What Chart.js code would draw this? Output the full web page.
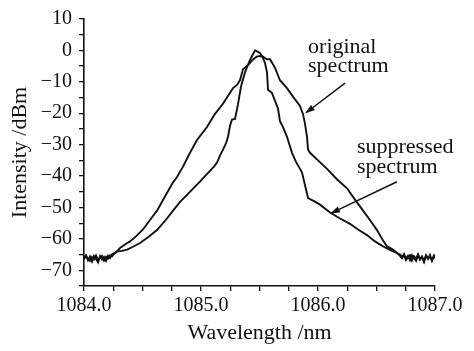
<!DOCTYPE html>
<html>
<head>
<meta charset="utf-8">
<script src="https://cdn.jsdelivr.net/npm/chart.js@4.4.0/dist/chart.umd.min.js"></script>
<style>
  html, body { margin: 0; padding: 0; background: #fff; }
  #wrap { width: 474px; height: 351px; }
</style>
</head>
<body>
<div id="wrap"><canvas id="spec" width="474" height="351"></canvas></div>
<script>
// Spectra (wavelength in nm, intensity in dBm)
const originalNm = [
  1084.000, 1084.017, 1084.034, 1084.051, 1084.068, 1084.085, 1084.103, 1084.120, 1084.137, 1084.154, 1084.171, 1084.188, 1084.205, 1084.222, 1084.239,
  1084.256, 1084.274, 1084.291, 1084.308, 1084.350, 1084.393, 1084.444, 1084.504, 1084.564, 1084.624, 1084.692, 1084.761, 1084.795, 1084.846, 1084.906, 1084.966,
  1085.051, 1085.120, 1085.188, 1085.248, 1085.274, 1085.308, 1085.333, 1085.359, 1085.393, 1085.419, 1085.444, 1085.479, 1085.521, 1085.547, 1085.564, 1085.590,
  1085.632, 1085.675, 1085.735, 1085.786, 1085.846, 1085.872, 1085.889, 1085.906, 1085.915, 1085.932,
  1086.000, 1086.077, 1086.162, 1086.248, 1086.316, 1086.385, 1086.444, 1086.504, 1086.556, 1086.590, 1086.641, 1086.675,
  1086.701, 1086.718, 1086.735, 1086.752, 1086.769, 1086.786, 1086.803, 1086.820, 1086.838, 1086.855, 1086.872, 1086.889, 1086.906, 1086.923, 1086.940, 1086.957, 1086.974, 1086.991, 1087.000
];
const originalDb = [
  -66, -65.2, -66.8, -65.6, -67.2, -65.4, -66.4, -67.5, -65.5, -66.6, -65.8, -67, -65.4, -66.1, -64.9,
  -64.6, -64.2, -63.6, -62.9, -61.8, -60.8, -59.2, -57, -54, -51, -46.5, -42, -40.3, -37, -32.6, -28.5,
  -24.4, -20.2, -17, -13.5, -12, -11, -9.5, -6, -5, -4, -2.9, -1.9, -1.8, -2.4, -2.8, -2.8,
  -5.5, -9.5, -12, -14.7, -17.7, -20.3, -23.4, -27.5, -31.6, -32.6,
  -35, -37.7, -41, -43.9, -47.5, -51, -54, -57.2, -60.5, -62.4, -63.4, -64.5,
  -65, -65.8, -64.8, -66.2, -65.4, -66.8, -65.2, -66, -67, -65.3, -66.5, -65.6, -67.2, -65.4, -66.4, -65.1, -67, -65.6, -66.2
];

const suppressedNm = [
  1084.000, 1084.017, 1084.034, 1084.051, 1084.068, 1084.085, 1084.103, 1084.120, 1084.137, 1084.154, 1084.171, 1084.188, 1084.205, 1084.222, 1084.239, 1084.256,
  1084.282, 1084.325, 1084.368, 1084.419, 1084.479, 1084.547, 1084.624, 1084.692, 1084.761, 1084.821, 1084.880, 1084.932, 1084.991,
  1085.060, 1085.111, 1085.137, 1085.162, 1085.188, 1085.214, 1085.231, 1085.248, 1085.265, 1085.291, 1085.316, 1085.342, 1085.376, 1085.402, 1085.419, 1085.436, 1085.462,
  1085.479, 1085.504, 1085.530, 1085.547, 1085.564, 1085.573, 1085.590, 1085.607, 1085.632, 1085.658, 1085.675, 1085.701, 1085.735, 1085.761, 1085.778, 1085.812, 1085.863, 1085.889, 1085.915, 1085.966,
  1086.017, 1086.103, 1086.188, 1086.274, 1086.342, 1086.419, 1086.487, 1086.556, 1086.590, 1086.632, 1086.675,
  1086.701, 1086.718, 1086.735, 1086.752, 1086.769, 1086.786, 1086.803, 1086.820, 1086.838, 1086.855, 1086.872, 1086.889, 1086.906, 1086.923, 1086.940, 1086.957, 1086.974, 1086.991, 1087.000
];
const suppressedDb = [
  -66.4, -65.6, -66.2, -67, -65.8, -66.6, -65.3, -66.8, -66, -65.4, -66.9, -65.7, -66.3, -65.2, -65.6, -64.8,
  -64, -63.8, -63.4, -62.5, -61.3, -59.5, -57.2, -54.3, -51, -48.2, -46, -44, -41.8,
  -39, -37, -35.7, -33.5, -31.6, -29.5, -27.5, -24, -22, -21.8, -17.2, -11.5, -7, -4.5, -3, -1.8, 0,
  -0.3, -0.8, -2.4, -4, -7, -12.6, -13, -13.6, -16, -18.5, -22.5, -24.4, -27.5, -30.6, -32.6, -35.5, -38.8, -42.9, -47, -48,
  -49.1, -51.6, -53.5, -55.2, -57, -58.8, -60.8, -62.4, -63, -63.8, -64.5,
  -65.4, -66.2, -65.1, -66.7, -65.8, -65.2, -66.9, -65.5, -66.3, -64.9, -66.6, -65.7, -67.3, -65.2, -66.1, -65.8, -66.8, -65.3, -65.9
];

// callouts in data units: [text, nm, dBm baseline]
const noteLabels = [
  ["original", 1085.915, -0.9],
  ["spectrum", 1085.915, -6.8],
  ["suppressed", 1086.333, -32.5],
  ["spectrum", 1086.333, -39.0]
];
// arrows: [fromNm, fromDb, toNm, toDb]
const noteArrows = [
  [1086.231, -10.4, 1085.889, -20.1],
  [1086.675, -41.8, 1086.103, -52.0]
];

const serif = "'Liberation Serif', 'Times New Roman', serif";
const ink = "#111";

function toPoints(xs, ys) {
  return xs.map((x, i) => ({ x: x, y: ys[i] }));
}

const notes = {
  id: "notes",
  beforeDraw(chart) {
    const c = chart.ctx;
    c.save();
    c.fillStyle = "#fff";
    c.fillRect(0, 0, chart.width, chart.height);
    c.restore();
  },
  afterDraw(chart) {
    const c = chart.ctx;
    const xs = chart.scales.x, ys = chart.scales.y;
    c.save();
    c.fillStyle = ink;
    c.strokeStyle = ink;
    c.font = "22px " + serif;
    c.textAlign = "left";
    c.textBaseline = "alphabetic";
    noteLabels.forEach(([t, x, y]) => {
      c.fillText(t, xs.getPixelForValue(x), ys.getPixelForValue(y));
    });
    c.lineWidth = 1.5;
    noteArrows.forEach(([x0, y0, x1, y1]) => {
      const ax = xs.getPixelForValue(x0), ay = ys.getPixelForValue(y0);
      const bx = xs.getPixelForValue(x1), by = ys.getPixelForValue(y1);
      const ang = Math.atan2(by - ay, bx - ax);
      const len = 10, half = 3.2;
      const hx = bx - len * Math.cos(ang), hy = by - len * Math.sin(ang);
      c.beginPath();
      c.moveTo(ax, ay);
      c.lineTo(hx, hy);
      c.stroke();
      c.beginPath();
      c.moveTo(bx, by);
      c.lineTo(hx + half * Math.sin(ang), hy - half * Math.cos(ang));
      c.lineTo(hx - half * Math.sin(ang), hy + half * Math.cos(ang));
      c.closePath();
      c.fill();
    });
    c.restore();
  }
};

new Chart(document.getElementById("spec"), {
  type: "scatter",
  data: {
    datasets: [
      { label: "original spectrum", data: toPoints(originalNm, originalDb) },
      { label: "suppressed spectrum", data: toPoints(suppressedNm, suppressedDb) }
    ]
  },
  options: {
    responsive: false,
    devicePixelRatio: 1,
    animation: false,
    showLine: true,
    layout: { padding: { top: 11, right: 39, left: 0, bottom: 0 } },
    elements: {
      point: { radius: 0, hoverRadius: 0 },
      line: { borderColor: ink, borderWidth: 1.9, tension: 0 }
    },
    plugins: { legend: { display: false }, tooltip: { enabled: false } },
    scales: {
      x: {
        type: "linear",
        min: 1084, max: 1087,
        afterFit: s => { s.height = 65; },
        border: { color: ink, width: 1.6 },
        grid: { drawOnChartArea: false, drawTicks: true, tickLength: 5, color: ink, lineWidth: 1.3 },
        ticks: {
          stepSize: 0.25, autoSkip: false, maxRotation: 0, padding: 3,
          color: ink, font: { family: serif, size: 20 },
          callback: v => Math.abs(v - Math.round(v)) < 1e-6 ? v.toFixed(1) : ""
        },
        title: {
          display: true, text: "Wavelength /nm", color: ink,
          font: { family: serif, size: 22 }, padding: { top: 0, bottom: 5 }
        }
      },
      y: {
        min: -75, max: 10,
        afterFit: s => { s.width = 84; },
        border: { color: ink, width: 1.6 },
        grid: { drawOnChartArea: false, drawTicks: true, tickLength: 5, color: ink, lineWidth: 1.3 },
        ticks: {
          stepSize: 5, autoSkip: false, padding: 7,
          color: ink, font: { family: serif, size: 20 },
          callback: v => v % 10 === 0 ? String(v).replace("-", "\u2212") : ""
        },
        title: {
          display: true, text: "Intensity /dBm", color: ink,
          font: { family: serif, size: 22 }, padding: { top: 7, bottom: 0 }
        }
      }
    }
  },
  plugins: [notes]
});
</script>
</body>
</html>
